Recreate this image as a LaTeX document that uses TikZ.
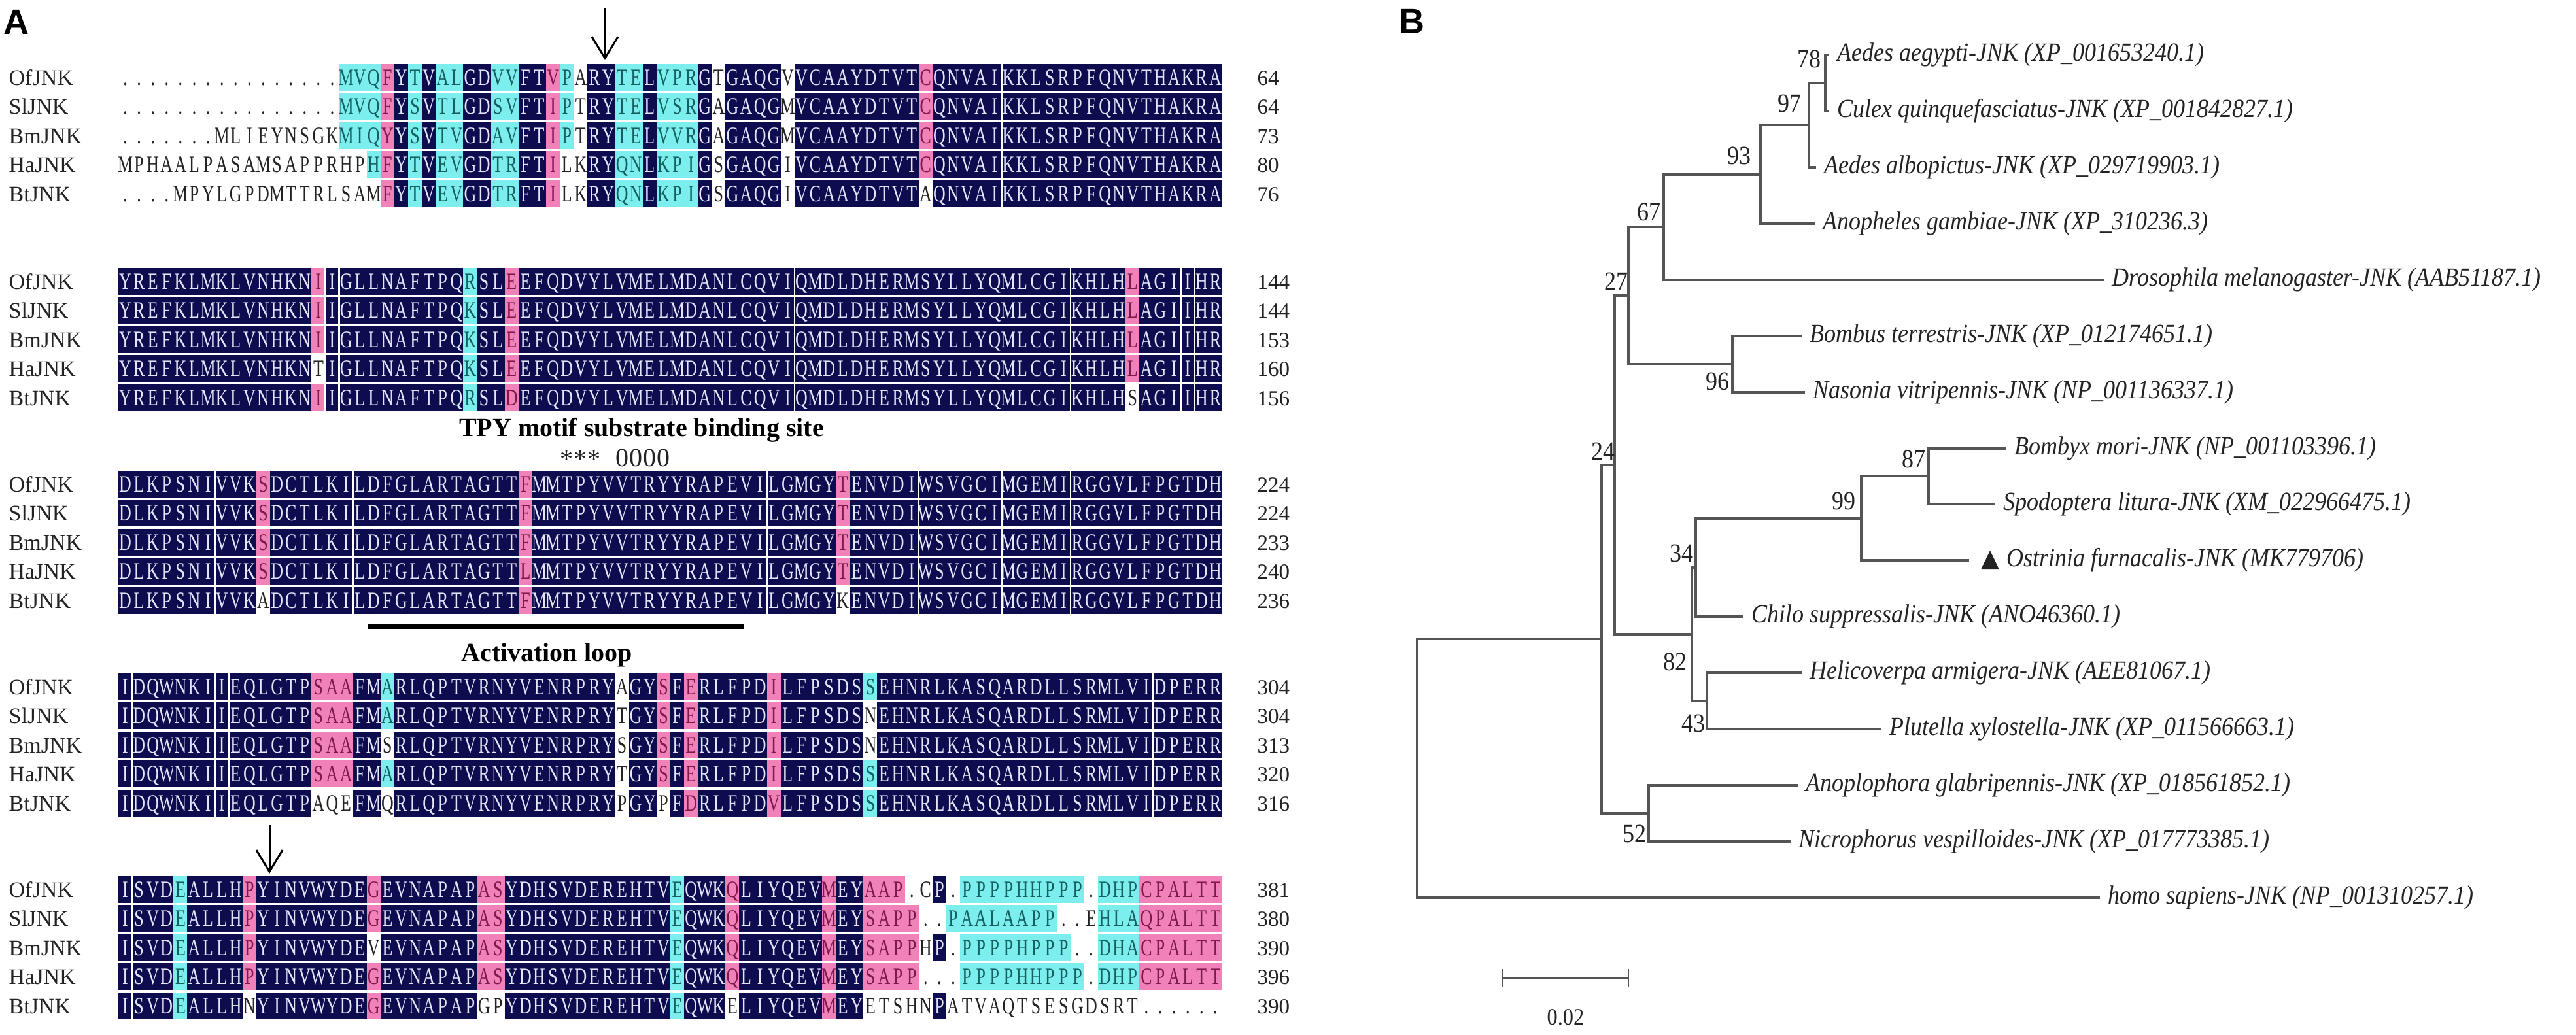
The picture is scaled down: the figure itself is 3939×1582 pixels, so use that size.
\documentclass[tikz,border=0pt]{standalone}
\usepackage{fontspec}
\usetikzlibrary{arrows.meta}
\setmainfont{Liberation Serif}
\newfontfamily\seqfont[FakeStretch=0.72]{Liberation Serif}
\newfontfamily\treefont[FakeStretch=0.9]{Liberation Serif}
\newfontfamily\panelsans{Liberation Sans}
\definecolor{seqdark}{RGB}{12,12,78}
\definecolor{seqpink}{RGB}{240,130,185}
\definecolor{seqcyan}{RGB}{125,238,238}
\definecolor{txtdark}{RGB}{228,228,250}
\definecolor{txtpink}{RGB}{125,25,75}
\definecolor{txtcyan}{RGB}{20,95,95}
\definecolor{txtnone}{RGB}{35,35,35}
\definecolor{treegray}{RGB}{85,85,85}
\definecolor{treetext}{RGB}{35,35,35}

\tikzset{
  seqchar/.style={font=\seqfont\fontsize{3.6mm}{4mm}\selectfont, anchor=base, inner sep=0},
  rowlab/.style={font=\fontsize{3.4mm}{4mm}\selectfont, text=txtnone, anchor=base west, inner sep=0},
  rownum/.style={font=\fontsize{3.3mm}{4mm}\selectfont, text=txtnone, anchor=base west, inner sep=0},
  sepline/.style={white, line width=0.25mm},
  panel/.style={font=\panelsans\bfseries\fontsize{5.4mm}{6mm}\selectfont, anchor=base west, inner sep=0},
  annot/.style={font=\bfseries\fontsize{4mm}{5mm}\selectfont, inner sep=0},
  motifmark/.style={font=\fontsize{4mm}{5mm}\selectfont, text=txtnone, inner sep=0},
  arr/.style={-{Straight Barb[length=3.3mm,width=4mm]}, line width=0.3mm},
  br/.style={draw=treegray, line width=0.35mm},
  leaf/.style={font=\treefont\fontsize{4mm}{4.5mm}\selectfont\itshape, text=treetext, anchor=west, inner sep=0, xshift=1.2mm},
  boot/.style={font=\treefont\fontsize{4mm}{4.5mm}\selectfont, text=treetext, anchor=east, inner sep=0},
}

\newif\ifjnkfill
\newcommand\SeqCell[4]{%
  \pgfmathsetmacro\jcx{181+(#3-0.5)*21.1}%
  \jnkfilltrue
  \if#2d\def\jcf{seqdark}\def\jct{txtdark}%
  \else\if#2p\def\jcf{seqpink}\def\jct{txtpink}%
  \else\if#2c\def\jcf{seqcyan}\def\jct{txtcyan}%
  \else\jnkfillfalse\def\jct{txtnone}\fi\fi\fi
  \ifjnkfill\fill[\jcf] (\jcx-10.62,#4-20.5) rectangle (\jcx+10.62,#4+20.5);\fi
  \node[seqchar,text=\jct] at (\jcx,#4+12) {#1};%
}
\newcommand\SepLines[3]{\foreach \c in {#1}{\draw[sepline] ({181+\c*21.1},#2) -- ({181+\c*21.1},#3);}}

\ExplSyntaxOn
\str_new:N \l__jnk_seq_str
\str_new:N \l__jnk_col_str
\NewDocumentCommand \SeqRow { m m m m m }
  {
    \str_set:Nn \l__jnk_seq_str {#3}
    \str_remove_all:Nn \l__jnk_seq_str { ~ }
    \str_set:Nn \l__jnk_col_str {#4}
    \str_remove_all:Nn \l__jnk_col_str { ~ }
    \node [rowlab] at (13,#1+12) {#2};
    \int_step_inline:nn { \str_count:N \l__jnk_seq_str }
      {
        \use:e
          {
            \exp_not:N \SeqCell
              { \str_item:Nn \l__jnk_seq_str {##1} }
              { \str_item:Nn \l__jnk_col_str {##1} }
              {##1}
              {#1}
          }
      }
    \node [rownum] at (1922,#1+12) {#5};
  }
\ExplSyntaxOff

\begin{document}
\begin{tikzpicture}[x=0.1mm,y=-0.1mm]
\useasboundingbox (0,0) rectangle (3939,1582);
\fill[white] (0,0) rectangle (3939,1582);

% ---------------- Panel A ----------------
\node[panel] (pA) at (5,52) {A};

\coordinate (ar1s) at (925,12);
\coordinate (ar1e) at (925,92);
\draw[arr] (ar1s) -- (ar1e);

% Block 1
\SeqRow{118}{OfJNK}{.......... ......MVQF YTVALGDVVF TVPARYTELV PRGTGAQGVV CAAYDTVTCQ NVAIKKLSRP FQNVTHAKRA}
{nnnnnnnnnn nnnnnncccp dcdccddccd dpcnddccdc ccdnddddnd ddddddddpd dddddddddd dddddddddd}{64}
\SeqRow{162.5}{SlJNK}{.......... ......MVQF YSVTLGDSVF TIPTRYTELV SRGAGAQGMV CAAYDTVTCQ NVAIKKLSRP FQNVTHAKRA}
{nnnnnnnnnn nnnnnncccp dcdccddccd dpcnddccdc ccdnddddnd ddddddddpd dddddddddd dddddddddd}{64}
\SeqRow{207}{BmJNK}{.......MLI EYNSGKMIQY YSVTVGDAVF TIPTRYTELV VRGAGAQGMV CAAYDTVTCQ NVAIKKLSRP FQNVTHAKRA}
{nnnnnnnnnn nnnnnncccp dcdccddccd dpcnddccdc ccdnddddnd ddddddddpd dddddddddd dddddddddd}{73}
\SeqRow{251.5}{HaJNK}{MPHAALPASA MSAPPRHPHF YTVEVGDTRF TILKRYQNLK PIGSGAQGIV CAAYDTVTCQ NVAIKKLSRP FQNVTHAKRA}
{nnnnnnnnnn nnnnnnnncp dcdccddccd dpnnddccdc ccdnddddnd ddddddddpd dddddddddd dddddddddd}{80}
\SeqRow{296}{BtJNK}{....MPYLGP DMTTRLSAMF YTVEVGDTRF TILKRYQNLK PIGSGAQGIV CAAYDTVTAQ NVAIKKLSRP FQNVTHAKRA}
{nnnnnnnnnn nnnnnnnnnp dcdccddccd dpnnddccdc ccdnddddnd ddddddddnd dddddddddd dddddddddd}{76}
\SepLines{64}{97.5}{316.5}

% Block 2
\SeqRow{430}{OfJNK}{YREFKLMKLV NHKNIIGLLN AFTPQRSLEE FQDVYLVMEL MDANLCQVIQ MDLDHERMSY LLYQMLCGIK HLHLAGIIHR}
{dddddddddd ddddpddddd dddddcddpd dddddddddd dddddddddd dddddddddd dddddddddd dddpdddddd}{144}
\SeqRow{474.5}{SlJNK}{YREFKLMKLV NHKNIIGLLN AFTPQKSLEE FQDVYLVMEL MDANLCQVIQ MDLDHERMSY LLYQMLCGIK HLHLAGIIHR}
{dddddddddd ddddpddddd dddddcddpd dddddddddd dddddddddd dddddddddd dddddddddd dddpdddddd}{144}
\SeqRow{519}{BmJNK}{YREFKLMKLV NHKNIIGLLN AFTPQKSLEE FQDVYLVMEL MDANLCQVIQ MDLDHERMSY LLYQMLCGIK HLHLAGIIHR}
{dddddddddd ddddpddddd dddddcddpd dddddddddd dddddddddd dddddddddd dddddddddd dddpdddddd}{153}
\SeqRow{563.5}{HaJNK}{YREFKLMKLV NHKNTIGLLN AFTPQKSLEE FQDVYLVMEL MDANLCQVIQ MDLDHERMSY LLYQMLCGIK HLHLAGIIHR}
{dddddddddd ddddnddddd dddddcddpd dddddddddd dddddddddd dddddddddd dddddddddd dddpdddddd}{160}
\SeqRow{608}{BtJNK}{YREFKLMKLV NHKNIIGLLN AFTPQRSLDE FQDVYLVMEL MDANLCQVIQ MDLDHERMSY LLYQMLCGIK HLHSAGIIHR}
{dddddddddd ddddpddddd dddddcddpd dddddddddd dddddddddd dddddddddd dddddddddd dddndddddd}{156}
\SepLines{15,16,49,69,77,78}{409.5}{628.5}

\node[annot] (tpy) at (981,658) {TPY motif substrate binding site};
\foreach \c in {32,33,34} \node[motifmark] at ({181+(\c+0.5)*21.1},702) {*};
\foreach \c in {36,37,38,39} \node[motifmark] at ({181+(\c+0.5)*21.1},700) {0};

% Block 3
\SeqRow{740}{OfJNK}{DLKPSNIVVK SDCTLKILDF GLARTAGTTF MMTPYVVTRY YRAPEVILGM GYTENVDIWS VGCIMGEMIR GGVLFPGTDH}
{dddddddddd pddddddddd dddddddddp dddddddddd dddddddddd ddpddddddd dddddddddd dddddddddd}{224}
\SeqRow{784.5}{SlJNK}{DLKPSNIVVK SDCTLKILDF GLARTAGTTF MMTPYVVTRY YRAPEVILGM GYTENVDIWS VGCIMGEMIR GGVLFPGTDH}
{dddddddddd pddddddddd dddddddddp dddddddddd dddddddddd ddpddddddd dddddddddd dddddddddd}{224}
\SeqRow{829}{BmJNK}{DLKPSNIVVK SDCTLKILDF GLARTAGTTF MMTPYVVTRY YRAPEVILGM GYTENVDIWS VGCIMGEMIR GGVLFPGTDH}
{dddddddddd pddddddddd dddddddddp dddddddddd dddddddddd ddpddddddd dddddddddd dddddddddd}{233}
\SeqRow{873.5}{HaJNK}{DLKPSNIVVK SDCTLKILDF GLARTAGTTL MMTPYVVTRY YRAPEVILGM GYTENVDIWS VGCIMGEMIR GGVLFPGTDH}
{dddddddddd pddddddddd dddddddddp dddddddddd dddddddddd ddpddddddd dddddddddd dddddddddd}{240}
\SeqRow{918}{BtJNK}{DLKPSNIVVK ADCTLKILDF GLARTAGTTF MMTPYVVTRY YRAPEVILGM GYKENVDIWS VGCIMGEMIR GGVLFPGTDH}
{dddddddddd nddddddddd dddddddddp dddddddddd dddddddddd ddnddddddd dddddddddd dddddddddd}{236}
\SepLines{7,17,47,58,64,69}{719.5}{938.5}

\coordinate (al1) at (563,958);
\coordinate (al2) at (1138,958);
\draw[line width=0.8mm] (al1) -- (al2);
\node[annot] (aloop) at (836,1002) {Activation loop};

% Block 4
\SeqRow{1050}{OfJNK}{IDQWNKIIEQ LGTPSAAFMA RLQPTVRNYV ENRPRYAGYS FERLFPDILF PSDSSEHNRL KASQARDLLS RMLVIDPERR}
{dddddddddd ddddpppddc dddddddddd ddddddnddp dpdddddpdd ddddcddddd dddddddddd dddddddddd}{304}
\SeqRow{1094.5}{SlJNK}{IDQWNKIIEQ LGTPSAAFMA RLQPTVRNYV ENRPRYTGYS FERLFPDILF PSDSNEHNRL KASQARDLLS RMLVIDPERR}
{dddddddddd ddddpppddc dddddddddd ddddddnddp dpdddddpdd ddddnddddd dddddddddd dddddddddd}{304}
\SeqRow{1139}{BmJNK}{IDQWNKIIEQ LGTPSAAFMS RLQPTVRNYV ENRPRYSGYS FERLFPDILF PSDSNEHNRL KASQARDLLS RMLVIDPERR}
{dddddddddd ddddpppddn dddddddddd ddddddnddp dpdddddpdd ddddnddddd dddddddddd dddddddddd}{313}
\SeqRow{1183.5}{HaJNK}{IDQWNKIIEQ LGTPSAAFMA RLQPTVRNYV ENRPRYTGYS FERLFPDILF PSDSSEHNRL KASQARDLLS RMLVIDPERR}
{dddddddddd ddddpppddc dddddddddd ddddddnddp dpdddddpdd ddddcddddd dddddddddd dddddddddd}{320}
\SeqRow{1228}{BtJNK}{IDQWNKIIEQ LGTPAQEFMQ RLQPTVRNYV ENRPRYPGYP FDRLFPDVLF PSDSSEHNRL KASQARDLLS RMLVIDPERR}
{dddddddddd ddddnnnddn dddddddddd ddddddnddn dpdddddpdd ddddcddddd dddddddddd dddddddddd}{316}
\SepLines{1,7,8,75}{1029.5}{1248.5}

\coordinate (ar2s) at (412,1262);
\coordinate (ar2e) at (412,1336);
\draw[arr] (ar2s) -- (ar2e);

% Block 5
\SeqRow{1360}{OfJNK}{ISVDEALLHP YINVWYDEGE VNAPAPASYD HSVDEREHTV EQWKQLIYQE VMEYAAP.CP .PPPPHHPPP .DHPCPALTT}
{ddddcddddp ddddddddpd ddddddppdd dddddddddd cdddpddddd dpddpppnnd nccccccccc ncccpppppp}{381}
\SeqRow{1404.5}{SlJNK}{ISVDEALLHP YINVWYDEGE VNAPAPASYD HSVDEREHTV EQWKQLIYQE VMEYSAPP.. PAALAAPP.. EHLAQPALTT}
{ddddcddddp ddddddddpd ddddddppdd dddddddddd cdddpddddd dpddppppnn ccccccccnn ncccpppppp}{380}
\SeqRow{1449}{BmJNK}{ISVDEALLHP YINVWYDEVE VNAPAPASYD HSVDEREHTV EQWKQLIYQE VMEYSAPPHP .PPPPHPPP. .DHACPALTT}
{ddddcddddp ddddddddnd ddddddppdd dddddddddd cdddpddddd dpddppppnd nccccccccn ncccpppppp}{390}
\SeqRow{1493.5}{HaJNK}{ISVDEALLHP YINVWYDEGE VNAPAPASYD HSVDEREHTV EQWKQLIYQE VMEYSAPP.. .PPPPHHPPP .DHPCPALTT}
{ddddcddddp ddddddddpd ddddddppdd dddddddddd cdddpddddd dpddppppnn nccccccccc ncccpppppp}{396}
\SeqRow{1538}{BtJNK}{ISVDEALLHN YINVWYDEGE VNAPAPGPYD HSVDEREHTV EQWKELIYQE VMEYETSHNP ATVAQTSESG DSRT......}
{ddddcddddn ddddddddpd ddddddnndd dddddddddd cdddnddddd dpddnnnnnd nnnnnnnnnn nnnnnnnnnn}{390}
\SepLines{1}{1339.5}{1558.5}

% ---------------- Panel B ----------------
\node[panel] (pB) at (2139,51) {B};

\coordinate (root) at (2167,1175.3);
\coordinate (nX) at (2449,977.5);
\coordinate (nY) at (2469,711.1);
\coordinate (n27) at (2490,452.2);
\coordinate (n67) at (2544,347.4);
\coordinate (n93) at (2692,266.8);
\coordinate (n97) at (2766,191.5);
\coordinate (n78) at (2791,127);
\coordinate (n96) at (2649,557);
\coordinate (n82) at (2587,970);
\coordinate (n34) at (2593,867.9);
\coordinate (n99) at (2846,792.8);
\coordinate (n87) at (2949,728.5);
\coordinate (n43) at (2610,1072);
\coordinate (n52) at (2521,1244);

\coordinate (aeg) at (2797,84);
\coordinate (cul) at (2797,170);
\coordinate (alb) at (2777,256);
\coordinate (ano) at (2775,342);
\coordinate (dro) at (3217,428);
\coordinate (bom) at (2755,514);
\coordinate (nas) at (2760,600);
\coordinate (bmo) at (3068,686);
\coordinate (spo) at (3051,771);
\coordinate (ost) at (3011,857);
\coordinate (chi) at (2666,943);
\coordinate (hel) at (2755,1029);
\coordinate (plu) at (2877,1115);
\coordinate (apl) at (2749,1201);
\coordinate (nic) at (2738,1287);
\coordinate (hom) at (3211,1373);

\draw[br] (root) |- (nX);  \draw[br] (root) |- (hom);
\draw[br] (nX) |- (nY);    \draw[br] (nX) |- (n52);
\draw[br] (nY) |- (n27);   \draw[br] (nY) |- (n82);
\draw[br] (n27) |- (n67);  \draw[br] (n27) |- (n96);
\draw[br] (n67) |- (n93);  \draw[br] (n67) |- (dro);
\draw[br] (n93) |- (n97);  \draw[br] (n93) |- (ano);
\draw[br] (n97) |- (n78);  \draw[br] (n97) |- (alb);
\draw[br] (n78) |- (aeg);  \draw[br] (n78) |- (cul);
\draw[br] (n96) |- (bom);  \draw[br] (n96) |- (nas);
\draw[br] (n82) |- (n34);  \draw[br] (n82) |- (n43);
\draw[br] (n34) |- (n99);  \draw[br] (n34) |- (chi);
\draw[br] (n99) |- (n87);  \draw[br] (n99) |- (ost);
\draw[br] (n87) |- (bmo);  \draw[br] (n87) |- (spo);
\draw[br] (n43) |- (hel);  \draw[br] (n43) |- (plu);
\draw[br] (n52) |- (apl);  \draw[br] (n52) |- (nic);

\node[leaf] (Laeg) at (aeg) {Aedes aegypti-JNK (XP\_001653240.1)};
\node[leaf] (Lcul) at (cul) {Culex quinquefasciatus-JNK (XP\_001842827.1)};
\node[leaf] (Lalb) at (alb) {Aedes albopictus-JNK (XP\_029719903.1)};
\node[leaf] (Lano) at (ano) {Anopheles gambiae-JNK (XP\_310236.3)};
\node[leaf] (Ldro) at (dro) {Drosophila melanogaster-JNK (AAB51187.1)};
\node[leaf] (Lbom) at (bom) {Bombus terrestris-JNK (XP\_012174651.1)};
\node[leaf] (Lnas) at (nas) {Nasonia vitripennis-JNK (NP\_001136337.1)};
\node[leaf] (Lbmo) at (bmo) {Bombyx mori-JNK (NP\_001103396.1)};
\node[leaf] (Lspo) at (spo) {Spodoptera litura-JNK (XM\_022966475.1)};
\node[leaf,xshift=4.5mm] (Lost) at (ost) {Ostrinia furnacalis-JNK (MK779706)};
\node[leaf] (Lchi) at (chi) {Chilo suppressalis-JNK (ANO46360.1)};
\node[leaf] (Lhel) at (hel) {Helicoverpa armigera-JNK (AEE81067.1)};
\node[leaf] (Lplu) at (plu) {Plutella xylostella-JNK (XP\_011566663.1)};
\node[leaf] (Lapl) at (apl) {Anoplophora glabripennis-JNK (XP\_018561852.1)};
\node[leaf] (Lnic) at (nic) {Nicrophorus vespilloides-JNK (XP\_017773385.1)};
\node[leaf] (Lhom) at (hom) {homo sapiens-JNK (NP\_001310257.1)};

\fill[treetext] (3029,871) -- (3057,871) -- (3043,842) -- cycle;

\node[boot] (b78) at (2785,90) {78};
\node[boot] (b97) at (2755,158) {97};
\node[boot] (b93) at (2678,238) {93};
\node[boot] (b67) at (2540,324) {67};
\node[boot] (b27) at (2490,430) {27};
\node[boot] (b96) at (2645,583) {96};
\node[boot] (b24) at (2470,690) {24};
\node[boot] (b87) at (2945,702) {87};
\node[boot] (b99) at (2838,766) {99};
\node[boot] (b34) at (2590,846) {34};
\node[boot] (b82) at (2580,1012) {82};
\node[boot] (b43) at (2608,1106) {43};
\node[boot] (b52) at (2518,1275) {52};

\coordinate (sb1) at (2298,1496);
\coordinate (sb2) at (2490,1496);
\draw[br] (sb1) -- (sb2);
\draw[draw=treegray, line width=0.25mm] (2298,1482) -- (2298,1510);
\draw[draw=treegray, line width=0.25mm] (2490,1482) -- (2490,1510);
\node[font=\treefont\fontsize{3.6mm}{4mm}\selectfont, text=treetext, inner sep=0] (sblab) at (2394,1556) {0.02};
\end{tikzpicture}
\end{document}
